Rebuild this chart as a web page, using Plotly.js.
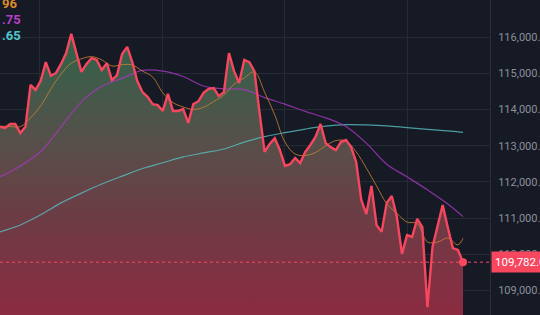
<!DOCTYPE html>
<html><head><meta charset="utf-8">
<script src="https://cdn.plot.ly/plotly-3.0.1.min.js"></script>
<style>html,body{margin:0;padding:0;background:#161a25;overflow:hidden}#chart{width:540px;height:315px}</style>
</head><body><div id="chart"></div>
<script>
// hourly closes (index = bar number)
const price = [113520,113490,113600,113600,113350,113520,114680,114540,114790,115310,
114930,115010,115260,115560,116090,115560,115040,115260,115420,115370,
115090,115280,114810,114950,115530,115730,115310,114780,114480,114350,
114150,114120,113960,114430,113960,113960,114010,113630,114150,114230,
114460,114570,114590,114370,114480,115560,115060,114730,115370,115310,
115060,113930,112830,113050,113210,112880,112440,112490,112660,112520,
112830,113020,113240,113600,113070,112960,112880,113100,113160,112960,
112550,111500,111110,111890,110810,110620,111420,111610,111030,110010,
110530,110480,110980,110750,108540,110200,110810,111360,110750,110170,
110120,109782];
const maFastIdx = [0,2,4,6,8,10,12,14,16,18,20,22,24,26,28,30,32,34,36,38,40,42,44,46,48,50,52,54,56,58,60,62,64,66,68,70,72,74,76,78,80,82,84,86,88,90,91];
const maFast = [113540,113530,113525,113770,114100,114570,114980,115280,115400,115460,115370,115200,115240,115230,115060,114900,114460,114190,114070,114000,114060,114220,114400,114700,114870,115040,114480,113850,113100,112770,112730,112810,113000,113140,113130,112830,112380,111890,111400,111130,110890,110850,110340,110340,110450,110260,110440];
const maSlowIdx = [0,4,8,12,16,20,24,28,32,36,40,44,48,52,56,60,64,68,72,76,80,84,88,91];
const maMid = [112140,112440,112840,113520,114210,114640,114860,115080,115060,114910,114650,114570,114550,114330,114150,113950,113770,113530,113070,112490,112140,111780,111390,111040];
const maLong = [110620,110810,111090,111420,111690,111940,112160,112370,112530,112690,112800,112910,113100,113250,113360,113460,113540,113580,113575,113550,113500,113450,113410,113370];
const legendTails = ['96', '.75', '.65'];
const lastLabel = '109,782.00';

const idx = price.map((_, i) => i);
const red = '#f7475f';
const yRange = [108323, 117025];

const traces = [
  {x: idx, y: price, type: 'scatter', mode: 'lines', line: {width: 0, color: 'rgba(0,0,0,0)'},
   fill: 'tozeroy',
   fillgradient: {type: 'vertical', start: 108323, stop: 116090,
     colorscale: [[0, '#8c2b41'], [0.35, '#6c3c45'], [0.62, '#56504a'], [1, '#2f6449']]},
   hoverinfo: 'skip'},
  {x: maSlowIdx, y: maLong, type: 'scatter', mode: 'lines', line: {color: 'rgba(86,190,192,0.8)', width: 1.2, shape: 'spline'}},
  {x: maSlowIdx, y: maMid, type: 'scatter', mode: 'lines', line: {color: 'rgba(171,54,196,0.8)', width: 1.2, shape: 'spline'}},
  {x: maFastIdx, y: maFast, type: 'scatter', mode: 'lines', line: {color: 'rgba(205,130,50,0.8)', width: 1, shape: 'spline'}},
  {x: idx, y: price, type: 'scatter', mode: 'lines', line: {color: red, width: 2.4}},
  {x: [idx[idx.length - 1]], y: [price[price.length - 1]], type: 'scatter', mode: 'markers',
   marker: {color: red, size: 8}}
];

const tailColors = ['#d98a2c', '#b540c8', '#4fc6ca'];
const tailY = [4, 19.5, 35];
const annotations = legendTails.map((t, i) => ({
  xref: 'paper', yref: 'paper', x: 0, y: 1 - tailY[i] / 315, xanchor: 'left', yanchor: 'middle',
  text: '<b>' + t + '</b>', showarrow: false, font: {family: 'Roboto, Inter, sans-serif', size: 13, color: tailColors[i]}
}));
annotations.push({
  xref: 'paper', yref: 'y', x: 1.002, y: price[price.length - 1], xanchor: 'left', yanchor: 'middle',
  text: lastLabel, showarrow: false, bgcolor: red, borderpad: 3,
  font: {family: 'Roboto, Inter, sans-serif', size: 11.5, color: '#ffffff'}
});

const layout = {
  width: 540, height: 315,
  margin: {l: 0, r: 50, t: 0, b: 0},
  paper_bgcolor: '#161a25', plot_bgcolor: '#161a25',
  showlegend: false,
  xaxis: {range: [0, 96.3], showgrid: true, gridcolor: '#262a35', gridwidth: 1,
    tick0: 7.86, dtick: 24.07, showticklabels: false, zeroline: false, showline: false, ticks: ''},
  yaxis: {range: yRange, side: 'right', showgrid: true, gridcolor: '#262a35', gridwidth: 1,
    dtick: 1000, tickformat: ',.2f', zeroline: false, showline: true, linecolor: '#2a2e39', linewidth: 1,
    ticks: '', ticklabelstandoff: 5,
    tickfont: {family: 'Roboto, Inter, sans-serif', size: 11, color: '#8b8f99'}},
  shapes: [
    {type: 'line', xref: 'paper', x0: 0, x1: 1, yref: 'y', y0: price[price.length - 1], y1: price[price.length - 1],
     line: {color: red, width: 1, dash: 'dot'}}
  ],
  annotations: annotations
};
Plotly.newPlot('chart', traces, layout, {staticPlot: true, displayModeBar: false});
</script></body></html>
